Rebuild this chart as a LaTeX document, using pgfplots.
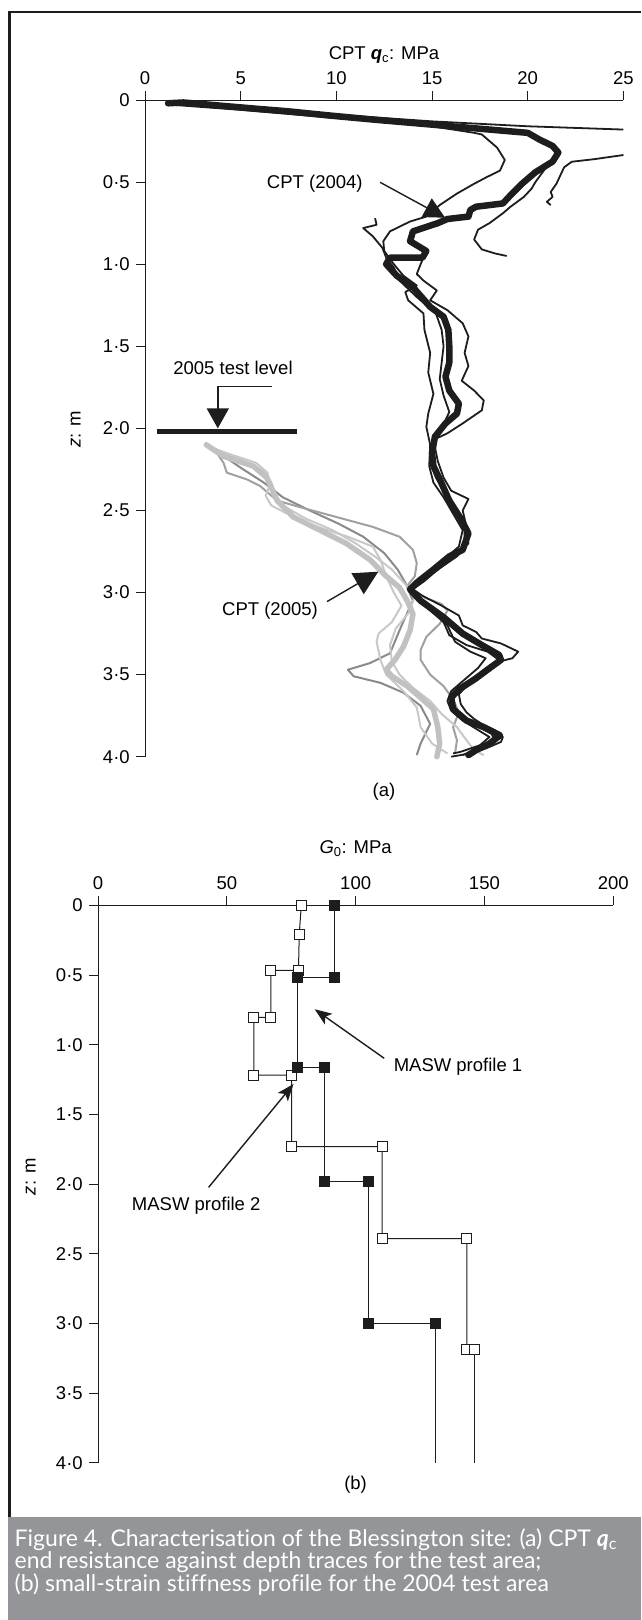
\documentclass[border=0pt]{standalone}
\usepackage{fontspec}
\setmainfont{Liberation Sans}
\newfontfamily\capfont[Ligatures=NoCommon]{Lato}
\usepackage{pgfplots}
\pgfplotsset{compat=1.18}
\usetikzlibrary{arrows.meta}
\definecolor{capgray}{RGB}{147,149,152}
\definecolor{gthick}{RGB}{192,193,195}
\definecolor{glight}{RGB}{200,200,202}
\definecolor{gmid}{RGB}{160,160,162}
\definecolor{gdark}{RGB}{138,138,140}
\definecolor{ink}{RGB}{30,28,28}
\pgfplotsset{
  myaxis/.style={
    scale only axis, y dir=reverse,
    axis x line=top, axis y line=left,
    axis line style={-, line width=0.9pt, ink},
    every outer x axis line/.append style={-},
    every outer y axis line/.append style={-},
    tick style={line width=0.9pt, ink},
    tick align=outside, major tick length=9pt,
    ytick={0,0.5,1,1.5,2,2.5,3,3.5,4},
    yticklabels={0,0·5,1·0,1·5,2·0,2·5,3·0,3·5,4·0},
    ymin=0, ymax=4, clip=false,
  }
}
\begin{document}
\fontsize{18.5}{22}\selectfont
\begin{tikzpicture}[x=1pt,y=1pt]
\path[use as bounding box] (0,0) rectangle (641,-1620);
\draw[ink, line width=2.5pt] (9.7,-1517) -- (9.7,-12) -- (641,-12);

% ---------------- (a) ----------------
\begin{axis}[myaxis,
  at={(145.1pt,-100pt)}, anchor=north west,
  width=478.3pt, height=656.7pt,
  xmin=0, xmax=25,
  xtick={0,5,10,15,20,25}, xticklabels={0,5,10,15,20,25},
]
% 2005 traces (grey)
\addplot[gdark, line width=2pt, line join=round] coordinates {
(3.3,2.10) (4.0,2.16) (5.0,2.24) (6.2,2.33) (7.2,2.42) (8.6,2.50) (10.1,2.58) (11.4,2.66) (12.5,2.76) (13.2,2.86) (13.6,2.94) (14.0,3.05) (13.6,3.15) (13.3,3.23) (12.8,3.37) (11.75,3.43) (10.6,3.47) (10.9,3.51) (12.3,3.55) (13.5,3.61) (14.4,3.69) (14.9,3.80) (14.4,3.92) (14.2,3.99)};
\addplot[gmid, line width=2pt, line join=round] coordinates {
(3.3,2.10) (3.75,2.15) (4.1,2.21) (4.27,2.27) (5.3,2.31) (6.0,2.35) (6.9,2.44) (8.1,2.48) (10.0,2.54) (11.9,2.60) (13.3,2.66) (14.0,2.74) (14.2,2.82) (14.1,2.90) (13.7,2.96) (14.6,3.03) (15.5,3.07) (15.8,3.11) (15.4,3.19) (14.7,3.27) (14.4,3.35) (14.4,3.41) (14.9,3.50) (15.6,3.57) (16.1,3.65) (16.4,3.73) (16.1,3.82) (16.3,3.90) (16.2,3.98)};
\addplot[glight, line width=2pt, line join=round] coordinates {
(3.3,2.11) (4.5,2.16) (5.8,2.21) (6.4,2.27) (6.5,2.35) (6.3,2.41) (6.6,2.47) (7.6,2.53) (9.0,2.60) (10.6,2.66) (11.9,2.72) (12.3,2.80) (12.6,2.90) (13.0,3.00) (13.4,3.08) (12.9,3.18) (12.2,3.25) (12.1,3.30) (12.3,3.41) (12.6,3.50) (13.5,3.60) (14.2,3.70) (14.4,3.82) (15.0,3.92) (15.8,3.98)};
\addplot[glight, line width=2pt, line join=round] coordinates {
(3.4,2.12) (5.0,2.19) (6.2,2.26) (6.6,2.33) (6.8,2.40) (7.2,2.47) (8.4,2.55) (9.8,2.62) (11.0,2.70) (12.0,2.78) (12.9,2.86) (13.6,2.95) (14.1,3.02) (13.8,3.12) (13.1,3.22) (12.8,3.32) (12.9,3.42) (13.3,3.50) (14.0,3.58) (14.9,3.66) (15.5,3.74) (16.3,3.82) (16.8,3.90) (17.2,3.96) (17.7,3.99)};
\addplot[gthick, line width=5.5pt, line join=round, line cap=round] coordinates {
(3.2,2.10) (4.1,2.17) (5.66,2.23) (6.36,2.30) (6.9,2.44) (7.75,2.54) (9.14,2.62) (10.5,2.70) (11.75,2.80) (12.6,2.90) (13.3,2.97) (13.7,3.05) (14.0,3.13) (13.85,3.23) (13.5,3.33) (13.06,3.41) (12.6,3.47) (12.9,3.51) (13.7,3.57) (14.5,3.65) (15.07,3.71) (15.3,3.82) (15.4,3.92) (15.25,4.00)};
% 2004 traces (black)
\addplot[ink, line width=1.8pt, line join=round] coordinates {
(1.5,0.02) (5,0.045) (10,0.09) (15,0.13) (20,0.16) (25,0.18)};
\addplot[ink, line width=1.8pt, line join=round] coordinates {
(25,0.335) (23.5,0.36) (22.3,0.376) (21.9,0.41) (21.7,0.46) (21.5,0.51) (21.2,0.56) (21.3,0.59) (21.0,0.62) (21.2,0.64)};
\addplot[ink, line width=1.8pt, line join=round] coordinates {
(1.5,0.01) (7.4,0.068) (14,0.14) (20.0,0.20) (21.3,0.28) (21.6,0.34) (20.9,0.42) (20.4,0.50) (20.2,0.54) (19.8,0.59) (19.1,0.65) (18.7,0.69) (18.0,0.75) (17.4,0.79) (17.2,0.85) (17.6,0.91) (18.3,0.935) (18.9,0.95)};
\addplot[ink, line width=1.8pt, line join=round] coordinates {
(1.5,0.03) (5,0.06) (10,0.11) (15,0.16) (17.2,0.20) (17.6,0.21) (18.4,0.29) (18.8,0.365) (18.55,0.43) (17.85,0.47) (17.2,0.51) (16.3,0.57) (15.4,0.64) (14.7,0.71) (13.85,0.74) (12.8,0.80) (12.45,0.86) (12.5,0.92) (13.0,1.0) (13.5,1.07) (14.2,1.13) (13.6,1.17) (13.75,1.22) (14.55,1.30) (14.6,1.40) (14.9,1.54) (14.8,1.66) (15.07,1.79) (14.8,1.91) (14.7,1.99) (14.9,2.10) (14.85,2.23) (15.07,2.33) (15.6,2.42) (16.1,2.52) (16.6,2.62) (16.4,2.72) (15.6,2.80) (14.8,2.88) (14.0,2.95) (13.9,3.00) (14.8,3.10) (15.8,3.20) (16.2,3.30) (17.0,3.36) (17.8,3.40) (17.4,3.46) (16.6,3.54) (16.0,3.60) (15.8,3.66) (16.0,3.72) (16.6,3.78) (17.3,3.83) (18.0,3.88) (17.5,3.93) (16.5,3.97) (16.1,3.98)};
\addplot[ink, line width=1.8pt, line join=round] coordinates {
(12.02,0.72) (12.1,0.76) (11.4,0.78) (11.9,0.83) (12.4,0.90) (12.6,0.96) (13.0,1.02) (13.3,1.10) (14.2,1.20) (15.2,1.30) (15.5,1.40) (15.6,1.50) (15.5,1.60) (15.4,1.70) (15.6,1.80) (15.9,1.90) (15.5,2.00) (15.0,2.10) (14.9,2.20) (15.2,2.30) (15.7,2.40) (16.2,2.50) (16.7,2.60) (16.7,2.70) (16.0,2.80) (15.2,2.87) (14.4,2.93) (13.9,2.98) (14.1,3.02) (15.0,3.10) (15.6,3.18) (15.9,3.26) (16.8,3.32) (17.9,3.36) (18.6,3.42) (18.0,3.47) (17.5,3.52) (16.6,3.58) (16.1,3.62) (16.0,3.70) (16.5,3.76) (17.2,3.80) (18.1,3.86) (18.3,3.90) (17.4,3.95) (16.6,3.99)};
\addplot[ink, line width=1.8pt, line join=round] coordinates {
(14.7,0.92) (14.4,1.00) (14.2,1.06) (14.55,1.10) (15.25,1.16) (14.9,1.22) (15.8,1.28) (16.6,1.36) (16.9,1.44) (16.7,1.54) (16.9,1.62) (16.55,1.71) (17.2,1.77) (17.7,1.83) (17.6,1.89) (16.6,1.97) (15.8,2.03) (15.07,2.07) (15.3,2.20) (15.6,2.30) (16.0,2.38) (16.9,2.43) (16.6,2.50) (16.8,2.60) (16.9,2.70) (16.3,2.78) (15.3,2.86) (14.6,2.93) (14.0,2.98) (14.5,3.02) (15.5,3.08) (16.4,3.14) (16.6,3.20) (17.3,3.24) (17.6,3.28) (18.6,3.31) (19.5,3.36) (19.2,3.40) (18.2,3.43) (17.6,3.48) (17.4,3.53) (16.8,3.57) (16.4,3.62) (16.5,3.68) (16.8,3.73) (17.2,3.77) (17.6,3.80) (18.3,3.84) (18.7,3.88) (18.6,3.91) (17.8,3.95) (17.0,3.98) (16.0,4.00)};
\addplot[ink, line width=6.5pt, line join=round, line cap=round] coordinates {
(1.2,0.02) (2.0,0.015) (4,0.035) (6,0.055) (7.4,0.068) (9.7,0.095) (12,0.12) (14,0.14) (16,0.16) (18,0.18) (20.0,0.20) (20.6,0.24) (21.3,0.28) (21.6,0.32) (21.3,0.375) (20.4,0.44) (19.7,0.51) (19.1,0.58) (18.7,0.63) (17.3,0.65) (17.0,0.67) (16.9,0.71) (15.8,0.725) (15.3,0.75) (14.0,0.80) (13.85,0.86) (14.7,0.92) (14.5,0.96) (12.8,0.96) (12.6,1.00) (13.15,1.07) (14.0,1.14) (14.9,1.26) (15.6,1.32) (15.85,1.40) (15.9,1.50) (15.9,1.60) (15.7,1.685) (15.9,1.77) (16.4,1.85) (16.3,1.91) (15.7,1.97) (15.15,2.05) (15.0,2.15) (15.07,2.23) (15.4,2.31) (15.9,2.44) (16.5,2.55) (16.9,2.64) (16.6,2.74) (15.9,2.78) (15.07,2.86) (14.2,2.94) (13.85,2.98) (14.4,3.05) (15.6,3.15) (16.6,3.25) (17.6,3.32) (18.5,3.38) (18.6,3.41) (17.9,3.47) (17.2,3.53) (16.4,3.59) (16.0,3.64) (16.1,3.71) (16.8,3.78) (17.7,3.82) (18.55,3.87) (18.0,3.92) (17.3,3.96) (16.9,3.99)};
% annotations
\draw[ink, line width=5.3pt] (axis cs:0.6,2.02) -- (axis cs:7.95,2.02);
\draw[ink, line width=1.4pt, -{Triangle[length=20pt,width=22pt]}] (axis cs:6.63,1.746) -- (axis cs:3.8,1.746) -- (axis cs:3.8,2.0);
\draw[ink, line width=1.4pt, -{Triangle[length=21pt,width=21pt]}] (axis cs:12.28,0.501) -- (axis cs:15.68,0.717);
\draw[ink, line width=1.4pt, -{Triangle[length=24pt,width=24pt]}] (axis cs:9.51,3.055) -- (axis cs:12.19,2.873);
\end{axis}

% ---------------- (b) ----------------
\begin{axis}[myaxis,
  at={(98.1pt,-905.3pt)}, anchor=north west,
  width=515.1pt, height=557.4pt,
  xmin=0, xmax=200,
  xtick={0,50,100,150,200}, xticklabels={0,50,100,150,200},
]
\addplot[ink, line width=1pt, mark=square*, mark size=5pt, mark options={fill=white, draw=ink, line width=1pt}] coordinates {
(78.9,0) (78.1,0.208) (77.8,0.467) (67.1,0.467) (67.1,0.804) (60.5,0.804) (60.5,1.218) (75.1,1.218) (75.1,1.732) (110.3,1.732) (110.3,2.392) (143.2,2.392) (143.2,3.19) (146,3.19)};
\addplot[ink, line width=1pt] coordinates {(146,3.19) (146,4)};
\addplot[ink, line width=1pt, mark=square*, mark size=5pt, mark options={fill=ink, draw=ink}] coordinates {
(91.6,0) (91.6,0.52) (77.3,0.52) (77.3,1.163) (87.8,1.163) (87.8,1.983) (105.1,1.983) (105.1,3.0) (131,3.0)};
\addplot[ink, line width=1pt] coordinates {(131,3.0) (131,4)};
\draw[ink, line width=1.4pt, -{Stealth[length=17pt,width=13pt,inset=4pt]}] (axis cs:111.1,1.098) -- (axis cs:84.1,0.746);
\draw[ink, line width=1.4pt, -{Stealth[length=17pt,width=13pt,inset=4pt]}] (axis cs:42.9,2.024) -- (axis cs:75.9,1.282);
\end{axis}

% labels
\node at (384,-55) {CPT \textbf{\textit{q}}\textsubscript{c}: MPa};
\node[rotate=90] at (75.6,-429) {\textit{z}: m};
\node at (384,-791.7) {(a)};
\node at (314.8,-183.3) {CPT (2004)};
\node at (233,-368.3) {2005 test level};
\node at (270,-610.7) {CPT (2005)};
\node at (355.6,-848.3) {\textit{G}\textsubscript{0}: MPa};
\node[rotate=90] at (30.7,-1176.7) {\textit{z}: m};
\node at (355.6,-1485) {(b)};
\node at (458,-1066.7) {MASW profile 1};
\node at (196.2,-1206) {MASW profile 2};

% caption
\fill[capgray] (8.3,-1516.7) rectangle (641,-1620);
\begin{scope}[every node/.style={anchor=base west, inner sep=0pt, text=white, font=\capfont\fontsize{23}{22.5}\selectfont}]
\node at (14.5,-1546) {Figure 4. Characterisation of the Blessington site: (a) CPT \textbf{\textit{q}}\textsubscript{c}};
\node at (14.5,-1568.5) {end resistance against depth traces for the test area;};
\node at (14.5,-1591) {(b) small-strain stiffness profile for the 2004 test area};
\end{scope}
\end{tikzpicture}
\end{document}
